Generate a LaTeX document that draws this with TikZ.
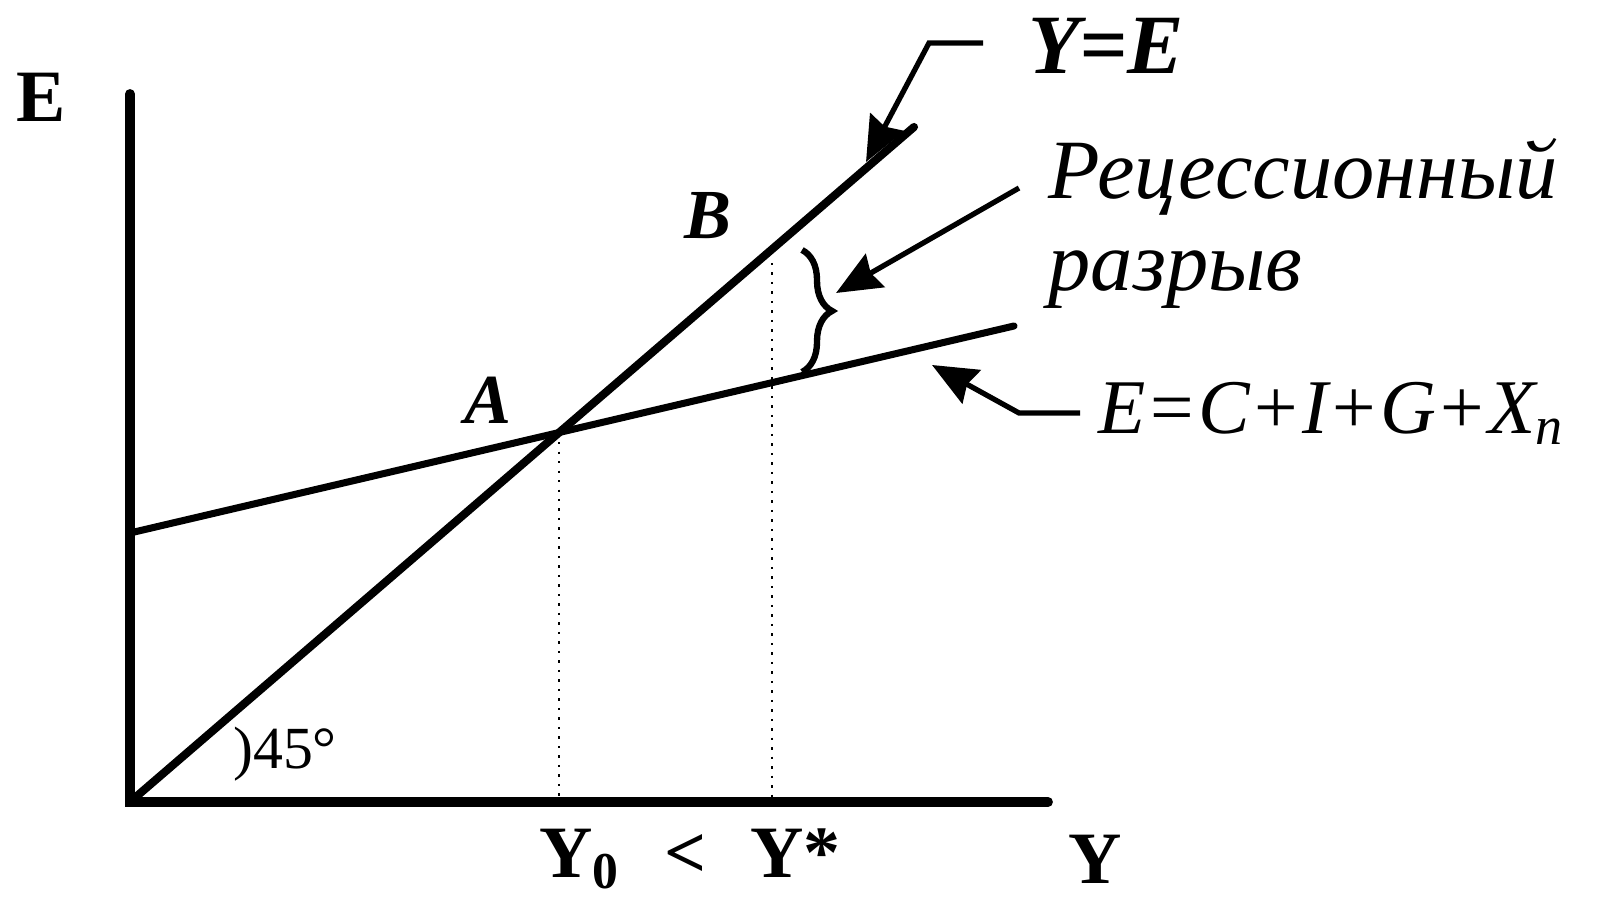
\documentclass[tikz,border=0pt]{standalone}
\usepackage{fontspec}
\setmainfont{Liberation Serif}
\usepackage{tikz}
\usetikzlibrary{arrows.meta,decorations.pathreplacing}

\begin{document}
\begin{tikzpicture}[x=0.01cm,y=-0.01cm,
        axis/.style={line width=2.8pt,line cap=round},
        curve/.style={line width=2.3pt,line cap=round},
        guide/.style={line width=0.7pt,dotted},
        pointer/.style={line width=1.5pt,-{Stealth[length=0.45cm,width=0.38cm,inset=0.05cm]}},
        lbl/.style={inner sep=0pt,font=\fontsize{24}{28}\selectfont\itshape},
        ptlbl/.style={inner sep=0pt,font=\fontsize{20}{24}\selectfont\bfseries\itshape},
        axlbl/.style={inner sep=0pt,font=\fontsize{21}{25}\selectfont\bfseries}]
    \useasboundingbox (0,0) rectangle (1598,898);
    \coordinate (O) at (130,802);
    \coordinate (Etop) at (130,94);
    \coordinate (Yend) at (1048,802);
    \coordinate (D1) at (914,127);
    \coordinate (S0) at (130,533);
    \coordinate (S1) at (1014,326);
    \draw[axis] (Etop) -- (O) -- (Yend);
    \draw[curve] (O) -- (D1);
    \draw[curve,line width=2pt] (S0) -- (S1);
    \coordinate (A) at (intersection of O--D1 and S0--S1);
    \coordinate (Bs) at (772,263);
    \foreach \p in {A,Bs}
        \draw[guide] (\p) -- (\p |- O);
    \draw[line width=1.8pt,decorate,decoration={brace,amplitude=0.3cm}] (802,250) -- (802,372);

    \node[axlbl] (elbl) at (41,97) {E};
    \node[axlbl] (ylbl) at (1095,859) {Y};
    \node[axlbl] (yvals) at (690,859) {Y\textsubscript{0}\hspace{0.6em}<\hspace{0.6em}Y*};
    \node[ptlbl] (albl) at (488,400) {A};
    \node[ptlbl] (blbl) at (708,216) {B};
    \node[inner sep=0pt,font=\fontsize{17}{20}\selectfont] (ang) at (285,754) {)45°};

    \node[lbl,font=\fontsize{24}{28}\selectfont\bfseries\itshape] (yeq) at (1106,46) {Y=E};
    \node[lbl,align=left,anchor=north west] (gap) at (1048,138) {Рецессионный\\[-2pt]разрыв};
    \node[lbl,anchor=west,font=\fontsize{22}{26}\selectfont\itshape] (espend) at (1098,413) {E=C+I+G+X\textsubscript{n}};

    \coordinate (p1) at (983,43);
    \coordinate (p2) at (929,43);
    \coordinate (p3) at (866,162);
    \draw[pointer] (p1) -- (p2) -- (p3);
    \coordinate (q1) at (1019,188);
    \coordinate (q2) at (836,293);
    \draw[pointer] (q1) -- (q2);
    \coordinate (r1) at (1080,413);
    \coordinate (r2) at (1019,413);
    \coordinate (r3) at (932,365);
    \draw[pointer] (r1) -- (r2) -- (r3);
\end{tikzpicture}
\end{document}
